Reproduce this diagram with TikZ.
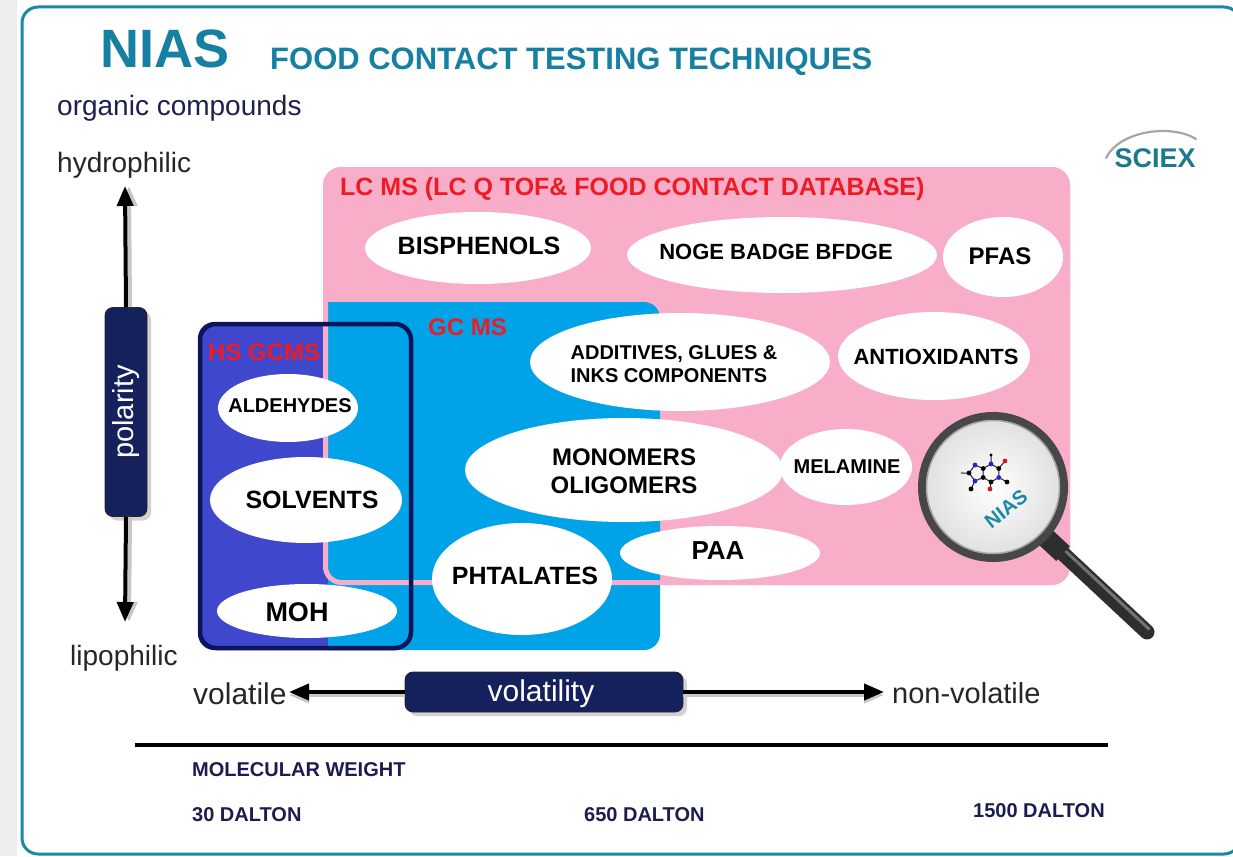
\documentclass[tikz,border=0pt]{standalone}
\usepackage{fontspec}
\setmainfont{Liberation Sans}
\usetikzlibrary{shapes.geometric,arrows.meta,shadows,calc}
\definecolor{frameteal}{RGB}{28,136,168}
\definecolor{titleteal}{RGB}{22,128,162}
\definecolor{inkblue}{RGB}{30,32,80}
\definecolor{barnavy}{RGB}{20,33,92}
\definecolor{lcpink}{RGB}{248,174,201}
\definecolor{gcblue}{RGB}{0,162,232}
\definecolor{hsindigo}{RGB}{63,72,204}
\definecolor{hsnavy}{RGB}{14,20,88}
\definecolor{labelred}{RGB}{237,28,36}
\definecolor{mwnavy}{RGB}{28,28,82}
\definecolor{sciexteal}{RGB}{28,120,140}
\definecolor{atomblue}{RGB}{30,40,200}
\definecolor{atomred}{RGB}{200,30,30}
\newcommand\fsz[1]{\fontsize{#1pt}{#1pt}\selectfont}

\begin{document}
\begin{tikzpicture}[x=1pt,y=-1pt,
  blob/.style={ellipse, fill=white, inner sep=0pt},
  itemtext/.style={inner sep=0pt, font=\bfseries#1, text=black},
  regionlabel/.style={inner sep=0pt, anchor=west, font=\bfseries\fsz{#1}, text=labelred},
  bar/.style={draw=black!85, fill=barnavy, rounded corners=8pt, text=white,
    inner sep=0pt, line width=0.8pt,
    drop shadow={shadow xshift=4pt, shadow yshift=-4pt, fill=black!35, opacity=0.5}},
  axisarrow/.style={line width=4pt, -{Triangle[width=16pt,length=20pt]}},
  arrowshadow/.style={line width=4pt, black!22, -{Triangle[width=16pt,length=20pt]}},
  plain/.style={inner sep=0pt, anchor=west},
  region/.style={rounded corners=16pt},
  lcregion/.style={region, line width=5pt, draw=lcpink},
  atom/.style={radius=2.4pt},
  bond/.style={line width=1pt, black!85},
  ]
\useasboundingbox (0,0) rectangle (1233,856);
\fill[white] (0,0) rectangle (1233,856);
\fill[black!7] (0,0) rectangle (17,856);

% outer frame
\draw[frameteal, line width=3pt, rounded corners=16pt] (22,7) rectangle (1240,854);

% headings
\node[plain, font=\bfseries\fsz{54}, text=titleteal] (nias) at (100,49) {NIAS};
\node[plain, font=\bfseries\fsz{31}, text=titleteal] (subtitle) at (270,62) {FOOD CONTACT TESTING TECHNIQUES};
\node[plain, font=\fsz{28}, text=inkblue] (organic) at (57,108) {organic compounds};

% SCIEX logo
\node[inner sep=0pt, font=\bfseries\fsz{27}, text=sciexteal] (sciex) at (1155,158) {SCIEX};
\draw[black!35, line width=2.2pt, line cap=round] (1106,158) .. controls (1120,130) and (1172,124) .. (1196,139);

% technique regions
\filldraw[lcregion, fill=lcpink] (325.5,169.5) rectangle (1067.5,582.5);
\fill[region, hsindigo] (198,322) rectangle (413,650);
\begin{scope}
  \clip (328,290) rectangle (680,670);
  \fill[region, gcblue] (290,302) rectangle (660,650);
\end{scope}
\draw[lcregion] (325.5,169.5) rectangle (1067.5,582.5);
\draw[region, hsnavy, line width=4.5pt] (200,324) rectangle (411,648);

\node[regionlabel=25] (lcms) at (340,189) {LC MS (LC Q TOF\& FOOD CONTACT DATABASE)};
\node[regionlabel=24] (gcms) at (428,327) {GC MS};
\node[regionlabel=24] (hsgcms) at (208,352) {HS GCMS};

% compound classes
\node[blob, minimum width=226pt, minimum height=72pt] (bis) at (478,248) {};
\node[itemtext=\fsz{25}] (bisT) at (479,246) {BISPHENOLS};
\node[blob, minimum width=310pt, minimum height=76pt] (noge) at (782,255) {};
\node[itemtext=\fsz{22}] (nogeT) at (776,252) {NOGE BADGE BFDGE};
\node[blob, minimum width=120pt, minimum height=80pt] (pfas) at (1003,257) {};
\node[itemtext=\fsz{24}] (pfasT) at (1000,256) {PFAS};
\node[blob, minimum width=300pt, minimum height=98pt] (add) at (680,362) {};
\node[itemtext=\fsz{20}, align=left, font=\bfseries\fsz{20}\linespread{1.15}\selectfont] (addT) at (674,364) {ADDITIVES, GLUES \&\\INKS COMPONENTS};
\node[blob, minimum width=192pt, minimum height=88pt] (anti) at (934,356) {};
\node[itemtext=\fsz{22}] (antiT) at (936,357) {ANTIOXIDANTS};
\node[blob, minimum width=318pt, minimum height=104pt] (mono) at (624,470) {};
\node[itemtext, align=center, font=\bfseries\fsz{24}\linespread{1.15}\selectfont] (monoT) at (624,471) {MONOMERS\\OLIGOMERS};
\node[blob, minimum width=132pt, minimum height=76pt] (mel) at (846,467) {};
\node[itemtext=\fsz{20}] (melT) at (847,467) {MELAMINE};
\node[blob, minimum width=180pt, minimum height=112pt] (pht) at (522,579) {};
\node[itemtext=\fsz{25}] (phtT) at (525,576) {PHTALATES};
\node[blob, minimum width=200pt, minimum height=54pt] (paa) at (720,553) {};
\node[itemtext=\fsz{26}] (paaT) at (718,551) {PAA};
\node[blob, minimum width=140pt, minimum height=68pt] (ald) at (288,408) {};
\node[itemtext=\fsz{20}] (aldT) at (290,406) {ALDEHYDES};
\node[blob, minimum width=192pt, minimum height=86pt] (sol) at (306,500) {};
\node[itemtext=\fsz{25}] (solT) at (312,500) {SOLVENTS};
\node[blob, minimum width=180pt, minimum height=54pt] (moh) at (307,611) {};
\node[itemtext=\fsz{27}] (mohT) at (297,612) {MOH};

% magnifying glass
\coordinate (lens) at (993,487);
\coordinate (handleA) at (1042,534);
\coordinate (handleB) at (1147,632);
\draw[black!82, line width=15pt, line cap=round] (handleA) -- (handleB);
\draw[black!55, line width=3pt, line cap=round] ([shift={(2,-3)}]handleA) -- ([shift={(2,-3)}]handleB);
\draw[black!82, line width=20pt] (handleA) -- ($(handleA)!0.2!(handleB)$);
\shade[inner color=white, outer color=black!12] (lens) circle[radius=68pt];
\draw[black!72, line width=8pt] (lens) circle[radius=71pt];
\draw[black!35, line width=1.5pt] (lens) circle[radius=66.5pt];

% small molecule inside the lens
\coordinate (m1) at (991,464);
\coordinate (m2) at (998.8,468.5);
\coordinate (m3) at (998.8,477.5);
\coordinate (m4) at (991,482);
\coordinate (m5) at (983.2,477.5);
\coordinate (m6) at (983.2,468.5);
\coordinate (m7) at (975,465);
\coordinate (m8) at (969,473);
\coordinate (m9) at (975,481);
\coordinate (o1) at (1005,461);
\coordinate (o2) at (990,489);
\coordinate (c1) at (991,455);
\coordinate (c2) at (1007,482);
\coordinate (c3) at (971,489);
\coordinate (h1) at (962,473);
\draw[bond] (m1) -- (m2) -- (m3) -- (m4) -- (m5) -- (m6) -- cycle;
\draw[bond] (m6) -- (m7) -- (m8) -- (m9) -- (m5);
\draw[bond] (m2) -- (o1) (m4) -- (o2) (m1) -- (c1) (m3) -- (c2) (m9) -- (c3) (m8) -- (h1);
\fill[black] (m2) circle[atom] (m4) circle[atom] (m5) circle[atom] (m6) circle[atom] (m8) circle[atom]
  (c1) circle[radius=1.6pt] (c2) circle[atom] (c3) circle[atom];
\fill[atomblue] (m1) circle[atom] (m3) circle[atom] (m7) circle[atom] (m9) circle[atom];
\fill[atomred] (o1) circle[atom] (o2) circle[atom];
\fill[black!50] (h1) circle[radius=1.3pt];
\node[inner sep=0pt, rotate=38, font=\bfseries\fsz{20}, text=frameteal] (lensT) at (1006,509) {NIAS};

% polarity axis
\node[plain, font=\fsz{28}, text=black!85] (hydro) at (57,165) {hydrophilic};
\node[plain, font=\fsz{28}, text=black!85] (lipo) at (70,658) {lipophilic};
\node[bar, minimum width=42pt, minimum height=209pt] (pol) at (126,412) {};
\node[inner sep=0pt, rotate=90, text=white, font=\fsz{29}] (polT) at (pol) {polarity};
\coordinate (polTop) at (125,186);
\coordinate (polBot) at (125,622);
\draw[arrowshadow] ([xshift=4pt]pol.north) -- ([xshift=4pt]polTop);
\draw[arrowshadow] ([xshift=4pt]pol.south) -- ([xshift=4pt]polBot);
\draw[axisarrow] (pol.north) -- (polTop);
\draw[axisarrow] (pol.south) -- (polBot);

% volatility axis
\node[plain, font=\fsz{30}, text=black!85] (volat) at (193,694) {volatile};
\node[plain, font=\fsz{29}, text=black!85] (nonvol) at (892,693) {non-volatile};
\node[bar, minimum width=278pt, minimum height=40pt, font=\fsz{30}] (vol) at (544,692) {};
\node[inner sep=0pt, text=white, font=\fsz{30}] (volT) at (541,694) {volatility};
\coordinate (volLeft) at (289,692);
\coordinate (volRight) at (884,692);
\draw[arrowshadow] ([yshift=-3pt]vol.west) -- ([yshift=-3pt]volLeft);
\draw[arrowshadow] ([yshift=-3pt]vol.east) -- ([yshift=-3pt]volRight);
\draw[axisarrow] (vol.west) -- (volLeft);
\draw[axisarrow] (vol.east) -- (volRight);

% molecular weight scale
\coordinate (mwL) at (135,745);
\coordinate (mwR) at (1108,745);
\draw[line width=4pt] (mwL) -- (mwR);
\node[plain, font=\bfseries\fsz{20}, text=mwnavy] (mw) at (192,770) {MOLECULAR WEIGHT};
\node[plain, font=\bfseries\fsz{20}, text=mwnavy] (d30) at (192,815) {30 DALTON};
\node[plain, font=\bfseries\fsz{20}, text=mwnavy] (d650) at (584,815) {650 DALTON};
\node[plain, font=\bfseries\fsz{20}, text=mwnavy] (d1500) at (973,811) {1500 DALTON};
\end{tikzpicture}
\end{document}
